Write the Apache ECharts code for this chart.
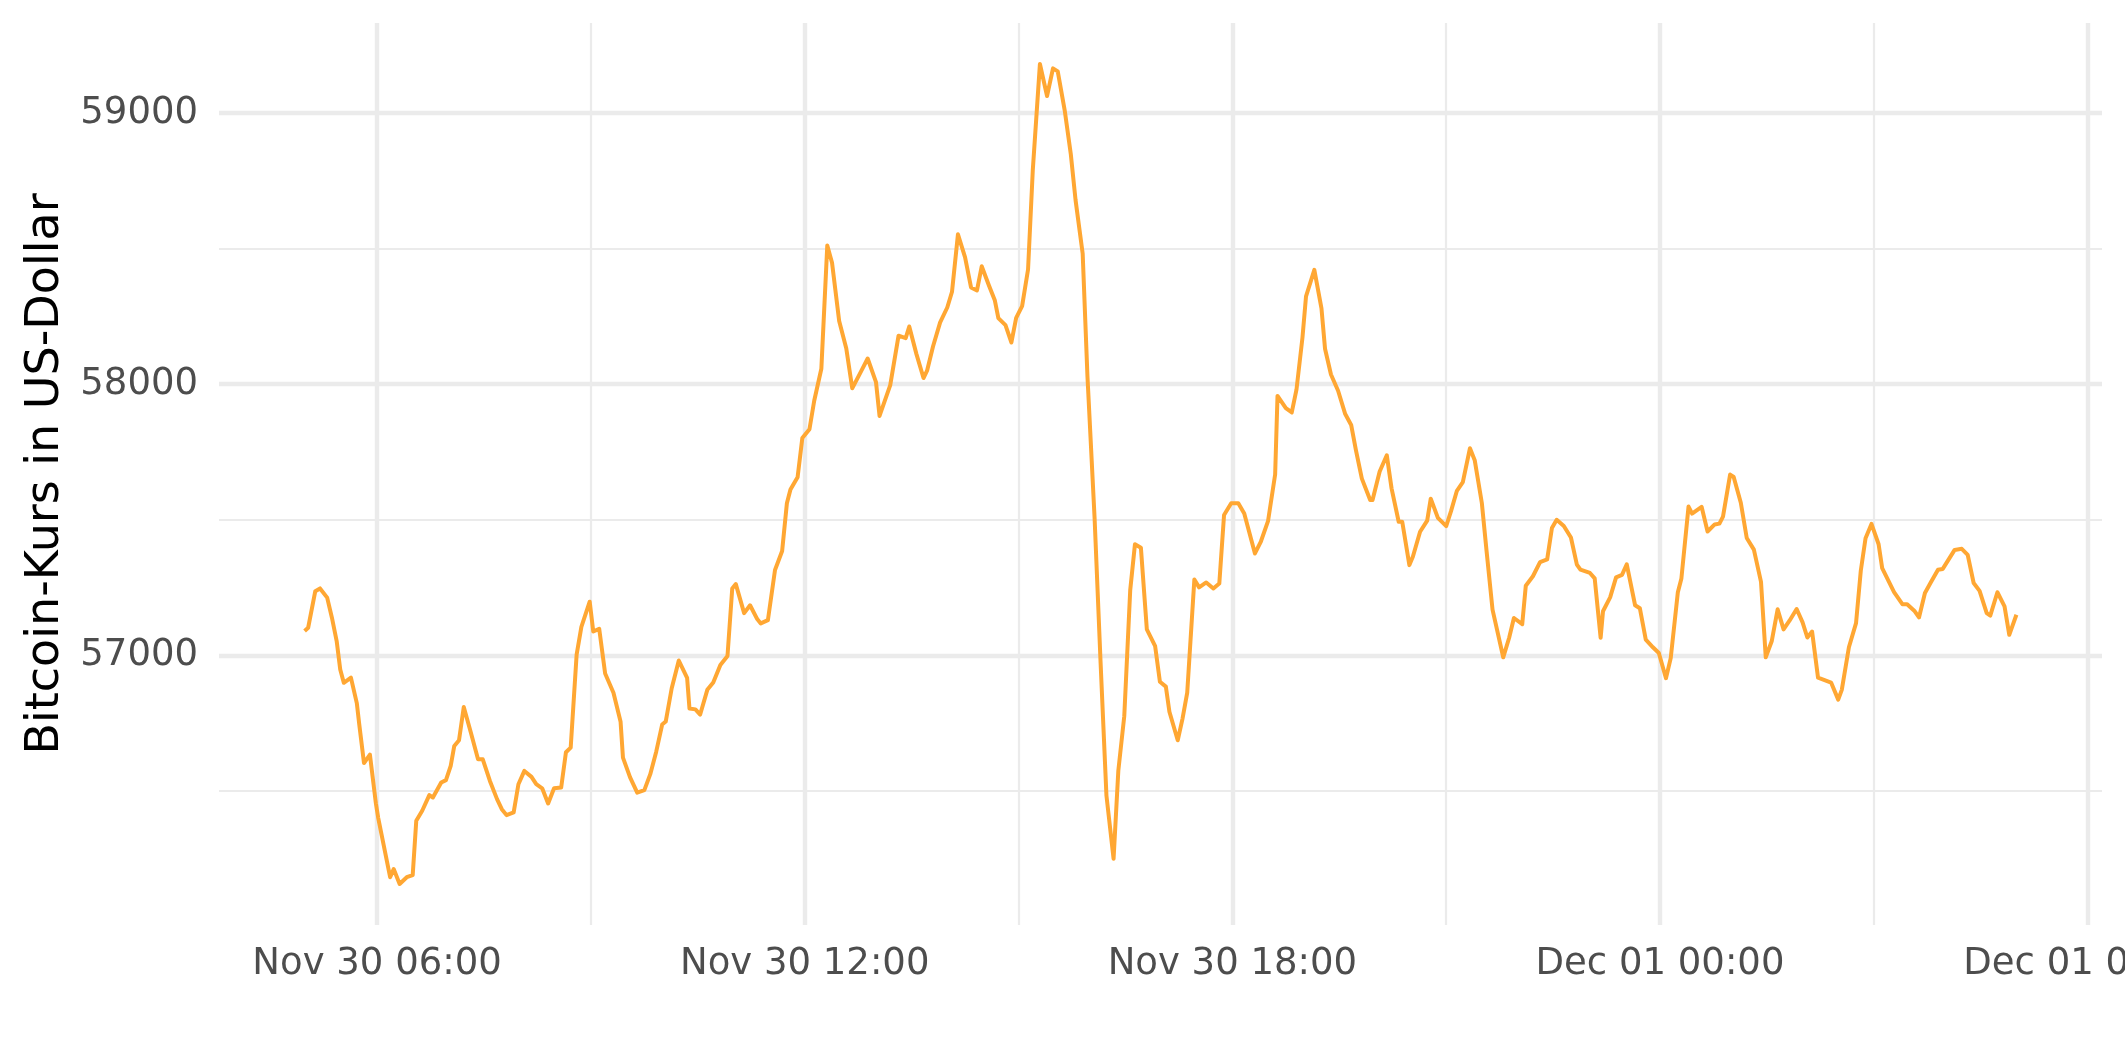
<!DOCTYPE html>
<html><head><meta charset="utf-8">
<script src="https://cdn.jsdelivr.net/npm/echarts@6/dist/echarts.min.js"></script>
<style>html,body{margin:0;padding:0;background:#fff}#c{width:2125px;height:1062px}</style>
</head><body><div id="c"></div>
<script>
// minutes after Nov 30 00:00
const minutesAfterStart = [299,302,308,312,318,322,326,329,332,338,343,345,349,354,359,361,371,374,379,385,390,393,398,404,407,414,418,422,425,429,433,439,445,449,455,461,465,469,475,479,484,490,494,499,504,509,515,519,523,528,532,539,542,547,552,559,565,567,573,579,585,590,595,600,603,608,614,621,623,628,632,638,643,649,655,659,662,669,674,680,683,689,695,701,705,708,714,718,724,728,734,739,743,749,755,760,767,773,780,783,792,799,805,808,814,820,823,828,834,840,844,849,855,860,865,869,875,880,883,889,894,898,903,908,912,918,924,929,933,939,944,948,954,958,964,969,974,980,984,989,994,998,1003,1008,1015,1019,1024,1027,1034,1038,1042,1048,1052,1058,1064,1069,1073,1079,1085,1090,1099,1104,1110,1116,1118,1125,1130,1134,1139,1142,1149,1155,1158,1163,1169,1175,1180,1184,1189,1196,1198,1204,1210,1214,1220,1223,1229,1232,1238,1244,1247,1253,1260,1264,1269,1274,1280,1284,1290,1294,1299,1308,1313,1317,1324,1327,1333,1339,1345,1349,1353,1359,1365,1370,1373,1381,1385,1390,1392,1398,1403,1408,1412,1419,1423,1428,1434,1439,1445,1449,1455,1458,1464,1467,1475,1480,1486,1490,1493,1499,1502,1508,1513,1519,1525,1529,1534,1539,1544,1549,1555,1560,1564,1568,1573,1584,1590,1593,1599,1605,1609,1613,1618,1624,1627,1637,1644,1648,1654,1658,1663,1668,1674,1678,1688,1694,1699,1704,1709,1715,1718,1724,1730,1734,1740];
const priceUSD = [57090,57102,57237,57247,57213,57139,57053,56948,56899,56918,56823,56746,56603,56634,56455,56400,56182,56212,56157,56182,56190,56390,56427,56485,56476,56531,56540,56593,56666,56687,56810,56715,56617,56617,56537,56470,56433,56411,56421,56525,56574,56552,56525,56510,56454,56510,56513,56643,56660,57003,57105,57198,57088,57098,56933,56862,56755,56623,56550,56494,56503,56562,56645,56745,56756,56878,56981,56917,56804,56801,56782,56873,56900,56965,56998,57247,57263,57156,57185,57134,57118,57130,57315,57385,57561,57612,57657,57802,57834,57939,58057,58512,58448,58233,58132,57985,58044,58095,58008,57883,57997,58179,58170,58213,58112,58023,58050,58139,58228,58283,58341,58553,58468,58357,58346,58435,58365,58310,58244,58218,58154,58245,58288,58423,58790,59181,59063,59165,59154,59006,58848,58679,58481,58030,57508,56980,56483,56250,56575,56776,57240,57410,57397,57096,57034,56903,56885,56792,56687,56766,56863,57280,57251,57269,57247,57265,57518,57561,57561,57523,57376,57420,57495,57667,57957,57912,57896,57981,58172,58324,58422,58280,58131,58036,57976,57890,57850,57757,57652,57573,57573,57678,57738,57616,57493,57493,57333,57365,57456,57497,57578,57507,57477,57531,57607,57639,57764,57720,57562,57384,57169,56993,57065,57138,57115,57257,57292,57344,57354,57470,57500,57477,57435,57335,57316,57304,57284,57065,57163,57214,57288,57297,57336,57185,57174,57058,57030,57009,56916,56990,57233,57284,57549,57523,57548,57457,57483,57486,57512,57667,57658,57563,57433,57390,57271,56993,57052,57170,57096,57128,57171,57122,57066,57088,56918,56900,56837,56873,57030,57119,57312,57432,57485,57410,57322,57233,57189,57189,57165,57140,57230,57270,57316,57319,57389,57393,57371,57267,57238,57156,57147,57233,57181,57076,57150];

const xTickMinutes = [360, 720, 1080, 1440, 1800];
const xTickLabels = ['Nov 30 06:00', 'Nov 30 12:00', 'Nov 30 18:00', 'Dec 01 00:00', 'Dec 01 06:00'];
const xMinorMinutes = [540, 900, 1260, 1620];
const yTicks = [57000, 58000, 59000];
const yMinorTicks = [56500, 57500, 58500];
const yTitle = 'Bitcoin-Kurs in US-Dollar';

// ggplot-style 5% expansion
const xLo = Math.min(...minutesAfterStart), xHi = Math.max(...minutesAfterStart);
const yLo = Math.min(...priceUSD), yHi = Math.max(...priceUSD);
const xMin = xLo - 0.05 * (xHi - xLo), xMax = xHi + 0.05 * (xHi - xLo);
const yMin = yLo - 0.05 * (yHi - yLo), yMax = yHi + 0.05 * (yHi - yLo);

const FONT = 'DejaVu Sans';
const chart = echarts.init(document.getElementById('c'), null, {renderer: 'canvas'});
chart.setOption({
  animation: false,
  backgroundColor: '#ffffff',
  grid: {left: 219, right: 23, top: 23, bottom: 137, containLabel: false, outerBoundsMode: 'none'},
  xAxis: [
    {
      type: 'value', min: xMin, max: xMax,
      axisLine: {show: false},
      axisTick: {show: false, customValues: xTickMinutes},
      axisLabel: {
        customValues: xTickMinutes,
        formatter: v => xTickLabels[xTickMinutes.indexOf(v)] || '',
        color: '#4D4D4D', fontSize: 37, fontFamily: FONT, margin: 21,
        hideOverlap: false, showMaxLabel: true
      },
      splitLine: {show: true, lineStyle: {color: '#EBEBEB', width: 4.4}}
    },
    {
      type: 'value', min: xMin, max: xMax, position: 'bottom',
      axisLine: {show: false},
      axisTick: {show: false, customValues: xMinorMinutes},
      axisLabel: {show: false, customValues: xMinorMinutes},
      splitLine: {show: true, lineStyle: {color: '#EBEBEB', width: 2.2}}
    }
  ],
  yAxis: [
    {
      type: 'value', min: yMin, max: yMax,
      name: yTitle, nameLocation: 'middle', nameRotate: 90, nameGap: 150,
      nameTextStyle: {color: '#000000', fontSize: 46, fontFamily: FONT},
      axisLine: {show: false},
      axisTick: {show: false, customValues: yTicks},
      axisLabel: {
        customValues: yTicks, formatter: v => String(v),
        color: '#4D4D4D', fontSize: 37, fontFamily: FONT, margin: 21
      },
      splitLine: {show: true, lineStyle: {color: '#EBEBEB', width: 4.4}}
    },
    {
      type: 'value', min: yMin, max: yMax, position: 'left',
      axisLine: {show: false},
      axisTick: {show: false, customValues: yMinorTicks},
      axisLabel: {show: false, customValues: yMinorTicks},
      splitLine: {show: true, lineStyle: {color: '#EBEBEB', width: 2.2}}
    }
  ],
  series: [{
    type: 'line',
    xAxisIndex: 0, yAxisIndex: 0,
    data: minutesAfterStart.map((m, i) => [m, priceUSD[i]]),
    showSymbol: false,
    lineStyle: {color: '#FFA733', width: 4, join: 'round'},
    z: 5
  }]
});
</script>
</body></html>
